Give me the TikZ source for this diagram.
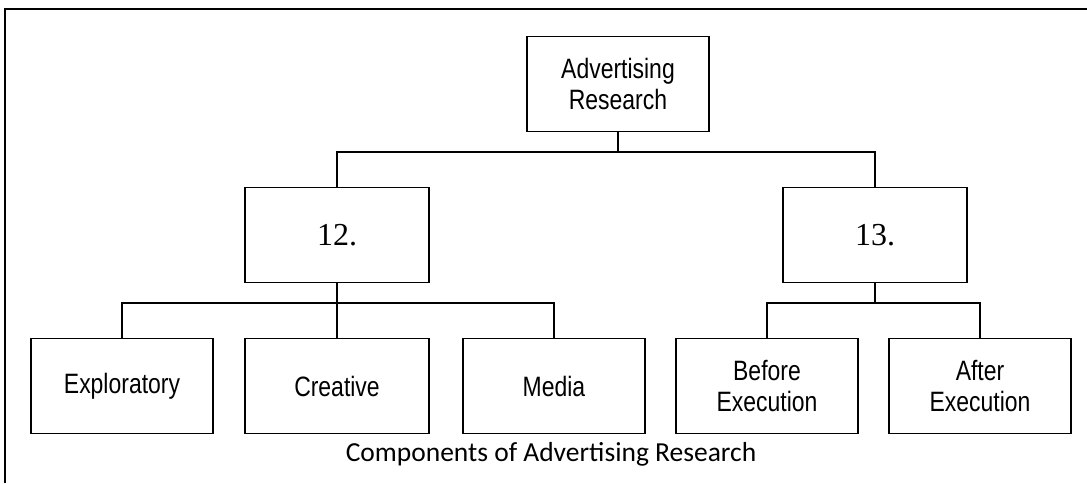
\documentclass[tikz,border=0pt]{standalone}
\usepackage{fontspec}
\newfontfamily\boxfont[FakeStretch=0.82]{Liberation Sans}
\newfontfamily\numfont{Liberation Serif}
\newfontfamily\capfont{Carlito}
\begin{document}
\begin{tikzpicture}[x=1pt,y=-1pt,
  boxnode/.style={draw, line width=1.5pt, minimum width=182pt, minimum height=95pt,
    align=center, inner sep=0pt, font=\boxfont\fontsize{28}{31}\selectfont},
  numnode/.style={boxnode, minimum width=184pt, font=\numfont\fontsize{32}{34}\selectfont},
  link/.style={line width=2.8pt}]
\useasboundingbox (0,0) rectangle (1087,483);
\draw[line width=1.2pt] (5,483) -- (5,9) -- (1087,9);
\node[boxnode] (ar) at (618,84) {Advertising\\Research};
\node[numnode] (n12) at (337,235) {12.};
\node[numnode] (n13) at (875,235) {13.};
\node[boxnode] (exp) at (122,386) {Exploratory};
\node[boxnode, minimum width=184pt] (cre) at (337,386) {Creative};
\node[boxnode] (med) at (554,386) {Media};
\node[boxnode] (bef) at (767,386) {Before\\Execution};
\node[boxnode] (aft) at (980,386) {After\\Execution};
\node[font=\capfont\fontsize{27.5}{30}\selectfont, anchor=base, inner sep=0pt] (cap) at (551,461) {Components of Advertising Research};
\coordinate (bar1) at (618,152);
\coordinate (bar2) at (337,303);
\coordinate (bar3) at (875,303);
\draw[link] (ar.south) -- (bar1);
\draw[link] (n12.north) |- (bar1) -| (n13.north);
\draw[link] (n12.south) -- (bar2);
\draw[link] (exp.north) |- (bar2) -| (med.north);
\draw[link] (cre.north) -- (bar2);
\draw[link] (n13.south) -- (bar3);
\draw[link] (bef.north) |- (bar3) -| (aft.north);
\end{tikzpicture}
\end{document}
